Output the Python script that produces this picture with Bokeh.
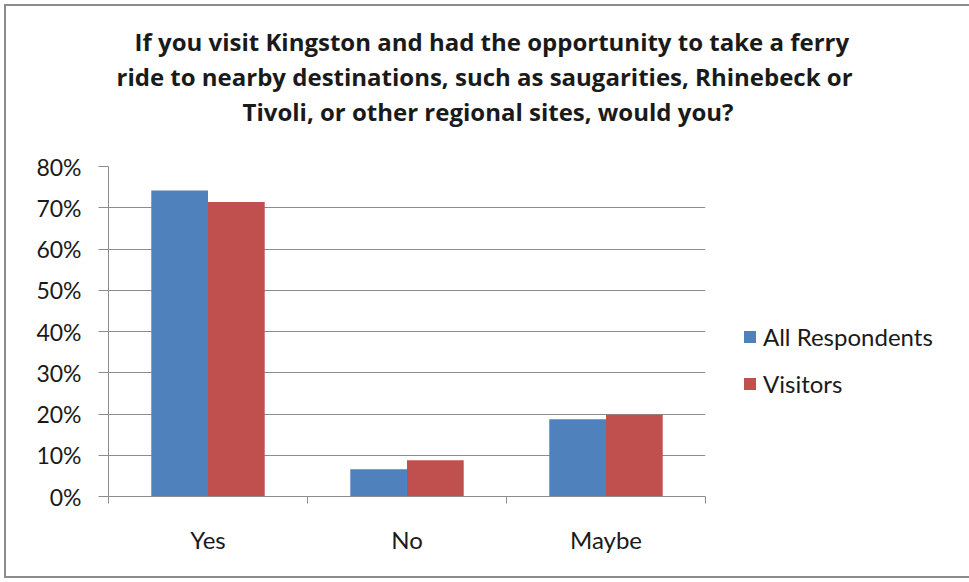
from bokeh.plotting import figure
from bokeh.models import (ColumnDataSource, FixedTicker, NumeralTickFormatter, Range1d,
                          Legend, LegendItem, Title)
from bokeh.embed import file_html
from bokeh.resources import INLINE

categories = ["Yes", "No", "Maybe"]
all_respondents = [0.742, 0.066, 0.187]
visitors = [0.714, 0.088, 0.198]
y_ticks = [0.0, 0.1, 0.2, 0.3, 0.4, 0.5, 0.6, 0.7, 0.8]
title_lines = [
    "If you visit Kingston and had the opportunity to take a ferry",
    "ride to nearby destinations, such as saugarities, Rhinebeck or",
    "Tivoli, or other regional sites, would you?",
]
title_offsets = [26, 8, 134]   # left offsets (px from plot frame) to centre each line

FONT = "Lato"
TITLE_FONT = "Open Sans"
BLUE = "#4F81BD"
RED = "#C0504D"
GRID = "#8C8C8C"
TXT = "#1a1a1a"

bar_w = 0.285
centers = [i + 0.5 for i in range(len(categories))]
src = ColumnDataSource(dict(
    x1=[c - bar_w / 2 for c in centers],
    x2=[c + bar_w / 2 for c in centers],
    a=all_respondents, v=visitors,
))

p = figure(frame_width=597, frame_height=330, output_backend="svg", toolbar_location=None,
           x_range=Range1d(0, len(categories)), y_range=Range1d(0, 0.8),
           min_border_left=108, min_border_right=264, min_border_top=166,
           min_border_bottom=86)
p.outline_line_color = None
p.background_fill_color = "white"
p.border_fill_color = None

r1 = p.vbar(x="x1", top="a", width=bar_w, source=src, fill_color=BLUE, line_color=None)
r2 = p.vbar(x="x2", top="v", width=bar_w, source=src, fill_color=RED, line_color=None)

p.yaxis.ticker = FixedTicker(ticks=y_ticks)
p.yaxis.formatter = NumeralTickFormatter(format="0%")
p.yaxis.axis_line_color = GRID
p.yaxis.major_tick_line_color = GRID
p.yaxis.major_tick_out = 10
p.yaxis.major_tick_in = 0
p.yaxis.minor_tick_line_color = None
p.yaxis.major_label_text_font = FONT
p.yaxis.major_label_text_font_size = "23px"
p.yaxis.major_label_text_color = TXT
p.yaxis.major_label_standoff = 17

p.xaxis.ticker = FixedTicker(ticks=centers, minor_ticks=list(range(len(categories) + 1)))
p.xaxis.major_label_overrides = {c: lab for c, lab in zip(centers, categories)}
p.xaxis.axis_line_color = GRID
p.xaxis.major_tick_line_color = None
p.xaxis.minor_tick_line_color = GRID
p.xaxis.minor_tick_out = 7
p.xaxis.minor_tick_in = 0
p.xaxis.major_label_text_font = FONT
p.xaxis.major_label_text_font_size = "24px"
p.xaxis.major_label_text_color = TXT
p.xaxis.major_label_standoff = 21

p.xgrid.grid_line_color = None
p.ygrid.grid_line_color = GRID
p.ygrid.grid_line_width = 1

legend = Legend(items=[LegendItem(label="All Respondents", renderers=[r1]),
                       LegendItem(label="Visitors", renderers=[r2])],
                location=(37, 98), orientation="vertical",
                label_text_font=FONT, label_text_font_size="24px",
                label_text_color=TXT, glyph_width=15, glyph_height=15,
                label_height=22, spacing=18, border_line_color=None,
                background_fill_alpha=0, label_standoff=6, padding=0, margin=0)
p.add_layout(legend, "right")

# title lines stacked above the frame (first added = closest to the frame)
p.add_layout(Title(text=" ", text_font_size="1px", standoff=36), "above")
for line, off in reversed(list(zip(title_lines, title_offsets))):
    p.add_layout(Title(text=line, align="left", offset=off, standoff=0,
                       text_font=TITLE_FONT, text_font_style="bold",
                       text_font_size="24px", text_color=TXT), "above")
p.add_layout(Title(text=" ", text_font_size="1px", standoff=18), "above")

p.styles = {"box-shadow": "inset 0 0 0 4px #ffffff, inset 0 0 0 6px #8c8c8c",
            "background-color": "white"}

open("out.html", "w").write(file_html(p, INLINE))
